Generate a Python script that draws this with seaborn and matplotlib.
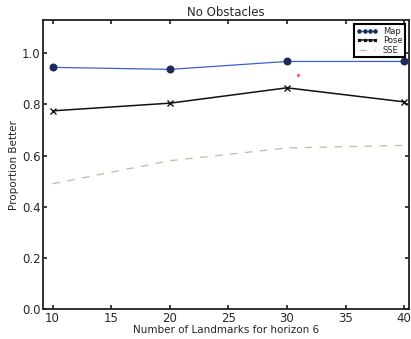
import matplotlib
matplotlib.use("Agg")
import matplotlib.pyplot as plt
import pandas as pd
import seaborn as sns

# values
landmarks = [10, 20, 30, 40]
map_vals = [0.945, 0.937, 0.968, 0.968]
pose_vals = [0.775, 0.805, 0.865, 0.810]
sse_vals = [0.490, 0.580, 0.630, 0.640]
stray_x = [30.9]
stray_y = [0.914]

df = pd.DataFrame({'Landmarks': landmarks, 'Map': map_vals,
                   'Pose': pose_vals, 'SSE': sse_vals})

sns.set_theme(style="ticks")
plt.rcParams['font.family'] = ['DejaVu Sans']

fig = plt.figure(figsize=(4.11, 3.39), dpi=100)
ax = fig.add_axes([0.105, 0.088, 0.89, 0.853])

sns.lineplot(data=df, x='Landmarks', y='Map', ax=ax, color='#3a5fd0', lw=0.9,
             marker='o', markersize=5, markerfacecolor='#1c2a5a',
             markeredgecolor='#1c2a5a', label='Map')
sns.lineplot(data=df, x='Landmarks', y='Pose', ax=ax, color='#111111', lw=1.1,
             marker='x', markersize=4, markeredgewidth=1.0,
             markeredgecolor='#111111', label='Pose')
sns.lineplot(data=df, x='Landmarks', y='SSE', ax=ax, color='#c0bba5', lw=0.9,
             dashes=(6, 6), label='SSE')
sns.scatterplot(x=stray_x, y=stray_y, ax=ax, color='#ff4040', s=14,
                marker='*', linewidth=0)

ax.set_xlim(9.2, 40.4)
ax.set_ylim(0, 1.13)
ax.set_xticks([10, 15, 20, 25, 30, 35, 40])
ax.set_yticks([0.0, 0.2, 0.4, 0.6, 0.8, 1.0])
ax.set_yticklabels(['0.0', '0.2', '0.4', '0.6', '0.8', '1.0'])
ax.tick_params(direction='in', length=3, labelsize=8.5, pad=2,
               top=True, right=True)
for s in ax.spines.values():
    s.set_linewidth(1.3)
    s.set_color('#222222')

ax.set_title('No Obstacles', fontsize=8.5, pad=3)
ax.set_xlabel('Number of Landmarks for horizon 6', fontsize=7.5, labelpad=0)
ax.set_ylabel('Proportion Better', fontsize=7.5, labelpad=2)

leg = ax.legend(loc='upper right', fontsize=6, handlelength=2.5,
                borderpad=0.3, labelspacing=0.05, handletextpad=0.6,
                fancybox=False, framealpha=1, markerscale=0.5,
                numpoints=4)
leg.get_frame().set_edgecolor('black')
leg.get_frame().set_linewidth(1.5)

fig.savefig('out.png', dpi=100)
